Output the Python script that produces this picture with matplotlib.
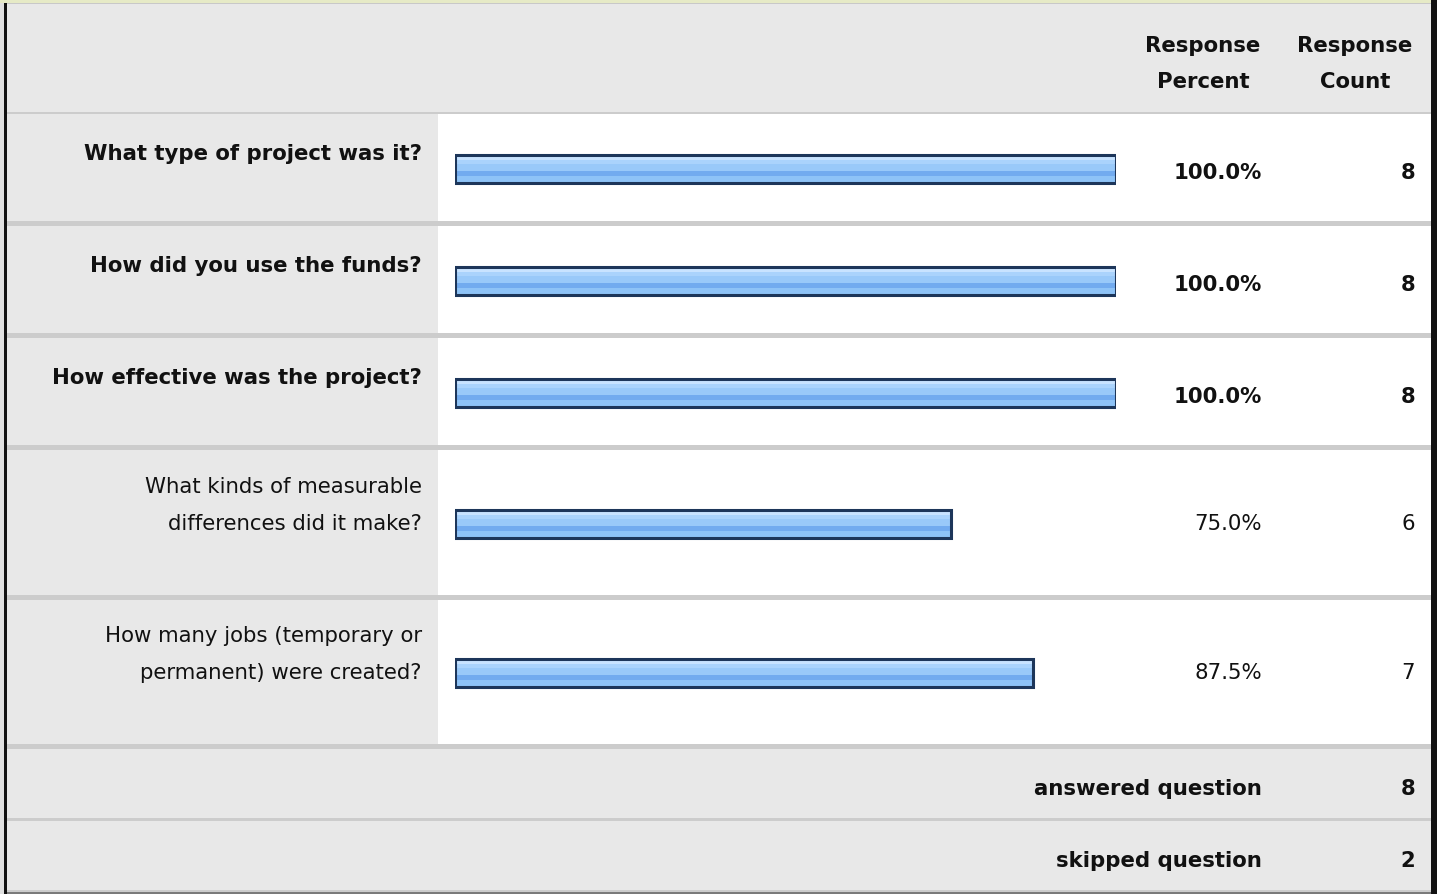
import matplotlib
matplotlib.use("Agg")
import matplotlib.pyplot as plt
from matplotlib.patches import Rectangle

# ---- data ----
questions = [
    ["What type of project was it?"],
    ["How did you use the funds?"],
    ["How effective was the project?"],
    ["What kinds of measurable", "differences did it make?"],
    ["How many jobs (temporary or", "permanent) were created?"],
]
bold_rows = [True, True, True, False, False]
percents = [100.0, 100.0, 100.0, 75.0, 87.5]
counts = [8, 8, 8, 6, 7]
answered = 8
skipped = 2
header_percent = ["Response", "Percent"]
header_count = ["Response", "Count"]

# ---- layout (pixels) ----
W, H = 1437, 894
FONT = "DejaVu Sans"
FS = 15.3
row_tops = [114, 226, 338, 450, 600]
row_bots = [221, 333, 445, 595, 744]
bar_centers = [169, 281, 393, 524, 673]
bar_h = 28
bar_left_px, bar_right_px = 455, 1116
label_x = 422
pct_x = 1262
cnt_x = 1415

fig = plt.figure(figsize=(W / 100, H / 100), dpi=100)
bg = fig.add_axes([0, 0, 1, 1])
bg.set_xlim(0, W)
bg.set_ylim(H, 0)
bg.axis("off")

GRAY = "#e8e8e8"
SEP = "#cccccc"

def rect(x0, y0, x1, y1, color, z=1):
    bg.add_patch(Rectangle((x0, y0), x1 - x0, y1 - y0, facecolor=color,
                           edgecolor="none", zorder=z))

def txt(x, y, s, ha="right", bold=True):
    bg.text(x, y, s, ha=ha, va="center_baseline", fontsize=FS,
            fontweight="bold" if bold else "normal", family=FONT,
            color="#111111", zorder=5)

# backgrounds and rules
rect(0, 0, W, H, GRAY)
rect(0, 0, W, 3, "#e6eac6", 2)
rect(0, 3, W, 4, "#c8c8c8", 2)
rect(0, 112, W, 114, SEP, 2)
for t, b in zip(row_tops, row_bots):
    rect(438, t, W, b, "white", 2)
for b in row_bots[:-1]:
    rect(0, b, W, b + 5, SEP, 2)
rect(0, 744, W, 749, SEP, 2)
rect(0, 818, W, 821, SEP, 2)
rect(0, 890, W, 892, SEP, 2)
rect(0, 892, W, H, "#7a7a7a", 2)
rect(4, 3, 7, H, "#111111", 3)
rect(0, 3, 4, H, "#e0e0e0", 3)
rect(1431, 0, W, H, "#111111", 3)

# header
for i, (a, b) in enumerate(zip(header_percent, header_count)):
    y = 44 + 36 * i
    txt(1203, y, a, ha="center")
    txt(1355, y, b, ha="center")

# labels and values
for lines, bold, p, c, yc in zip(questions, bold_rows, percents, counts, bar_centers):
    if len(lines) == 1:
        ys = [yc - 17]
    else:
        ys = [yc - 39, yc - 2]
    for s, y in zip(lines, ys):
        txt(label_x, y, s, bold=bold)
    off = 2 if bold else -2
    txt(pct_x, yc + off, f"{p:.1f}%", bold=bold)
    txt(cnt_x, yc + off, str(c), bold=bold)

# footer
txt(pct_x, 787, "answered question")
txt(cnt_x, 787, str(answered))
txt(pct_x, 859, "skipped question")
txt(cnt_x, 859, str(skipped))

# bar axes: x in percent
bx = fig.add_axes([bar_left_px / W, 0, (bar_right_px - bar_left_px) / W, 1])
bx.set_xlim(0, 100)
bx.set_ylim(H, 0)
bx.axis("off")
bx.patch.set_alpha(0)

# gradient bands inside the bar, top to bottom, in pixels
bands = [(5, "#c8e3ff"), (4, "#aad3fc"), (7, "#99c9f9"),
         (5, "#72abef"), (7, "#8ec3f7")]
for yc, p in zip(bar_centers, percents):
    top = yc - bar_h / 2
    acc = 0.0
    for h, col in bands:
        bx.barh(top + acc + h / 2, p, height=h, left=0, color=col,
                edgecolor="none", zorder=3)
        acc += h
    bx.barh(yc, p, height=bar_h, left=0, facecolor="none",
            edgecolor="#1d365a", linewidth=2.2, zorder=4)

fig.savefig("out.png", dpi=100)
